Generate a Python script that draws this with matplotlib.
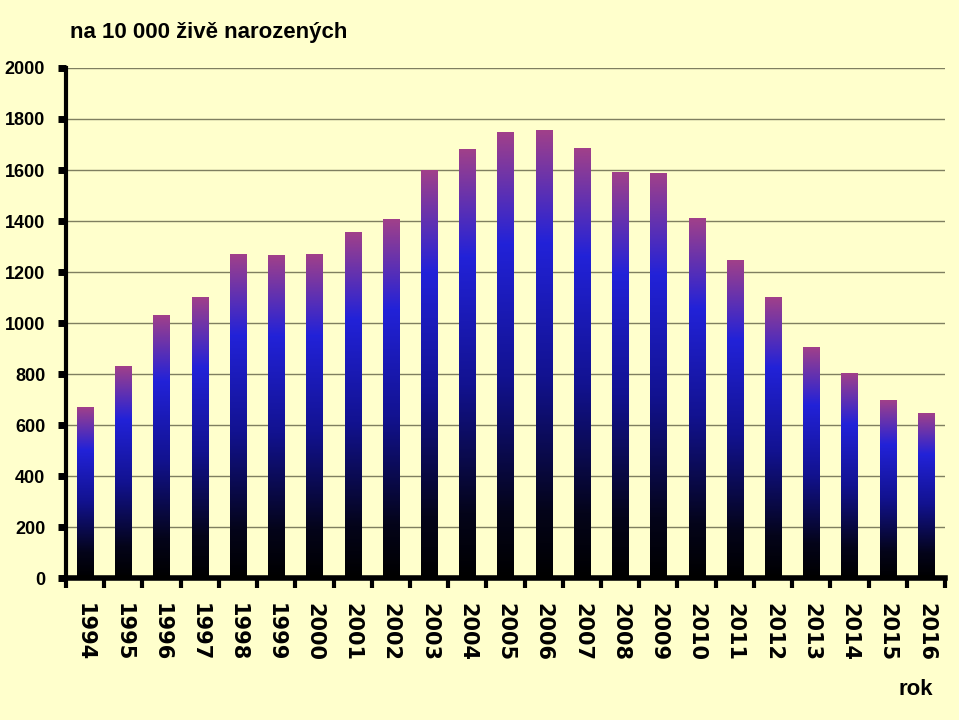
import numpy as np
import matplotlib.pyplot as plt
from matplotlib.colors import LinearSegmentedColormap

years = [str(y) for y in range(1994, 2017)]
values = [670, 830, 1030, 1100, 1270, 1265, 1270, 1355, 1405, 1598, 1680, 1748,
          1755, 1685, 1590, 1587, 1408, 1245, 1098, 905, 800, 695, 645]
yticks = [0, 200, 400, 600, 800, 1000, 1200, 1400, 1600, 1800, 2000]

narrow = ['Liberation Sans', 'DejaVu Sans']
bg = '#FFFFCC'

cmap = LinearSegmentedColormap.from_list('bar', [
    (0.0, '#000000'), (0.15, '#04041a'), (0.45, '#121290'),
    (0.75, '#2222d8'), (1.0, '#a0408a')])

fig = plt.figure(figsize=(9.59, 7.2), dpi=100, facecolor=bg)
ax = fig.add_axes([0.0688, 0.197, 0.9166, 0.7086])
ax.set_facecolor(bg)

x = np.arange(len(years))
w = 0.42
grad = np.linspace(0, 1, 256).reshape(-1, 1)
for xi, v in zip(x, values):
    ax.imshow(grad, cmap=cmap, origin='lower', aspect='auto',
              extent=(xi - w / 2, xi + w / 2, 0, v), zorder=2)

ax.set_xlim(-0.5, len(years) - 0.5)
ax.set_ylim(0, 2000)
ax.set_yticks(yticks)
ax.set_yticklabels(yticks, fontfamily=narrow, fontweight='bold', fontsize=13)
ax.set_xticks(x)
ax.set_xticklabels(years, rotation=-90, fontfamily='DejaVu Sans',
                   fontweight='bold', fontsize=15, va='top')
ax.set_xticks(np.arange(-0.5, len(years)), minor=True)
ax.tick_params(axis='x', which='major', length=0, pad=18)
ax.tick_params(axis='x', which='minor', length=7, width=3, direction='out')
ax.tick_params(axis='y', length=6, width=5, direction='out', pad=9)

ax.grid(axis='y', color='#7f7f60', linewidth=1, zorder=1)
ax.set_axisbelow(True)
for s in ['top', 'right']:
    ax.spines[s].set_visible(False)
ax.spines['left'].set_linewidth(3)
ax.spines['bottom'].set_linewidth(4)

fig.text(0.073, 0.955, 'na 10 000 živě narozených', fontfamily=narrow,
         fontweight='bold', fontsize=16, va='center')
fig.text(0.955, 0.042, 'rok', fontfamily=narrow, fontweight='bold',
         fontsize=16, va='center', ha='center')

fig.savefig('out.png', dpi=100, facecolor=bg)
